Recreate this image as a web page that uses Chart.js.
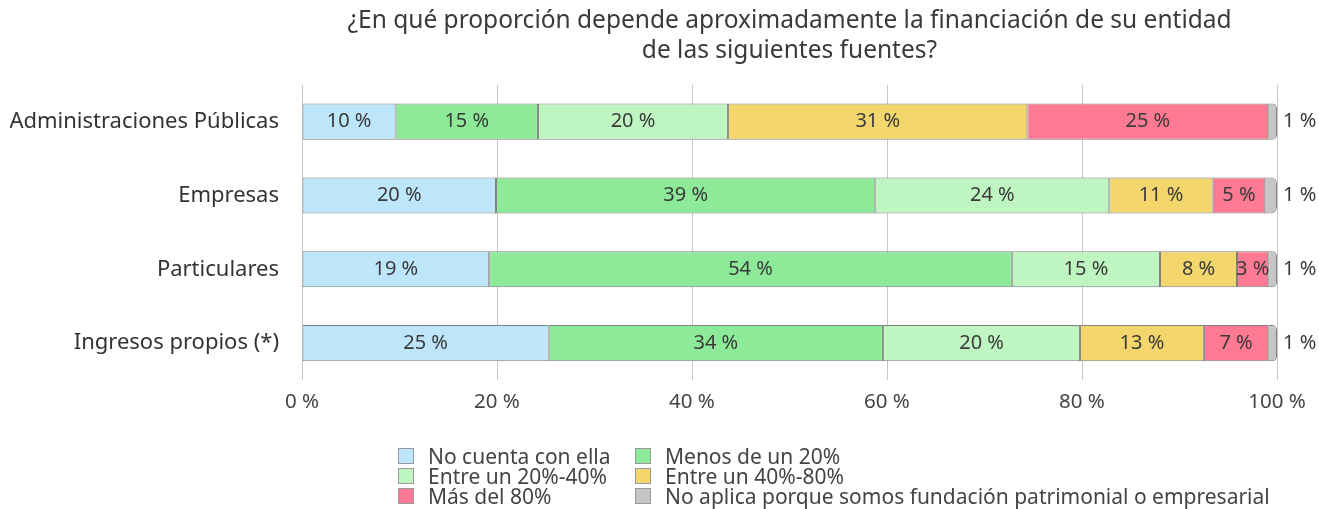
<!DOCTYPE html>
<html>
<head>
<meta charset="utf-8">
<script src="https://cdn.jsdelivr.net/npm/chart.js@4.4.1/dist/chart.umd.min.js"></script>
<style>
  body { margin: 0; background: #fff; }
  #wrap { position: relative; width: 1319px; height: 509px; }
  #leyenda {
    position: absolute; left: 398px; top: 446px;
    display: grid; grid-template-columns: 237px auto;
    font-family: "Noto Sans", sans-serif; font-size: 21px; color: #444; line-height: 20px;
  }
  #leyenda div { display: flex; align-items: center; white-space: nowrap; height: 20px; }
  #leyenda span.caja { display: inline-block; width: 14px; height: 14px; border: 1px solid #999; margin-right: 14px; }
</style>
</head>
<body>
<div id="wrap">
  <canvas id="grafico" width="1319" height="509"></canvas>
  <div id="leyenda"></div>
</div>
<script>
// datos
var categorias = ['Administraciones Públicas', 'Empresas', 'Particulares', 'Ingresos propios (*)'];
var series = ['No cuenta con ella', 'Menos de un 20%', 'Entre un 20%-40%', 'Entre un 40%-80%', 'Más del 80%',
  'No aplica porque somos fundación patrimonial o empresarial'];
var noCuenta   = [9.6, 19.9, 19.2, 25.3];
var menos20    = [14.6, 38.9, 53.6, 34.3];
var entre20_40 = [19.5, 24.0, 15.2, 20.2];
var entre40_80 = [30.7, 10.6, 7.9, 12.7];
var mas80      = [24.7, 5.4, 3.2, 6.6];
var noAplica   = [0.9, 1.2, 0.9, 0.9];
var ticksX = ['0 %', '20 %', '40 %', '60 %', '80 %', '100 %'];

var colores = ['#bde6fb', '#8dea99', '#bff5c0', '#f3d76c', '#ff7a92', '#c6c6c6'];
var valores = [noCuenta, menos20, entre20_40, entre40_80, mas80, noAplica];

var datasets = [];
for (let i = 0; i < series.length; i++) {
  datasets.push({
    label: series[i],
    data: valores[i],
    backgroundColor: colores[i],
    borderColor: '#808080',
    borderWidth: 1,
    borderSkipped: false,
    borderRadius: i == series.length - 1 ? {topRight: 7, bottomRight: 7} : 0,
    barPercentage: 1,
    categoryPercentage: 0.49
  });
}

// etiquetas de valor
var etiquetas = {
  id: 'etiquetas',
  afterDatasetsDraw: function(chart) {
    var ctx = chart.ctx;
    ctx.save();
    ctx.font = '20px "Noto Sans", sans-serif';
    ctx.fillStyle = '#3a3a3a';
    ctx.textBaseline = 'middle';
    chart.data.datasets.forEach(function(ds, i) {
      var meta = chart.getDatasetMeta(i);
      meta.data.forEach(function(bar, j) {
        var txt = Math.round(ds.data[j]) + ' %';
        if (i == chart.data.datasets.length - 1) {
          ctx.textAlign = 'left';
          ctx.fillText(txt, chart.chartArea.right + 6, bar.y);
        } else {
          ctx.textAlign = 'center';
          ctx.fillText(txt, (bar.x + bar.base) / 2, bar.y);
        }
      });
    });
    ctx.restore();
  }
};

var ctx = document.getElementById('grafico');
var chart = new Chart(ctx, {
  type: 'bar',
  data: { labels: categorias, datasets: datasets },
  plugins: [etiquetas],
  options: {
    indexAxis: 'y',
    responsive: false,
    animation: false,
    layout: { padding: { left: 10, right: 42, top: 0, bottom: 79 } },
    plugins: {
      legend: { display: false },
      tooltip: { enabled: false },
      title: {
        display: true,
        fullSize: false,
        text: ['¿En qué proporción depende aproximadamente la financiación de su entidad', 'de las siguientes fuentes?'],
        color: '#3a3a3a',
        font: { family: '"Noto Sans", sans-serif', size: 24.5, weight: 'normal', lineHeight: 1.22 },
        padding: { top: 6, bottom: 19 }
      }
    },
    scales: {
      x: {
        stacked: true,
        min: 0, max: 100,
        afterFit: function(s) { s.height = 50; },
        border: { display: false },
        grid: { color: '#c8c8c8', drawTicks: false },
        ticks: {
          stepSize: 20,
          padding: 10,
          color: '#444',
          font: { family: '"Noto Sans", sans-serif', size: 20.5 },
          callback: function(v, i) { return ticksX[i]; }
        }
      },
      y: {
        stacked: true,
        afterFit: function(s) { s.width = 292; },
        border: { display: false },
        grid: { display: false },
        ticks: {
          padding: 15,
          color: '#333',
          font: { family: '"Noto Sans", sans-serif', size: 22 }
        }
      }
    }
  }
});

// leyenda
var leyenda = document.getElementById('leyenda');
for (let i = 0; i < series.length; i++) {
  var item = document.createElement('div');
  item.innerHTML = '<span class="caja" style="background:' + colores[i] + '"></span>' + series[i];
  leyenda.appendChild(item);
}
</script>
</body>
</html>
